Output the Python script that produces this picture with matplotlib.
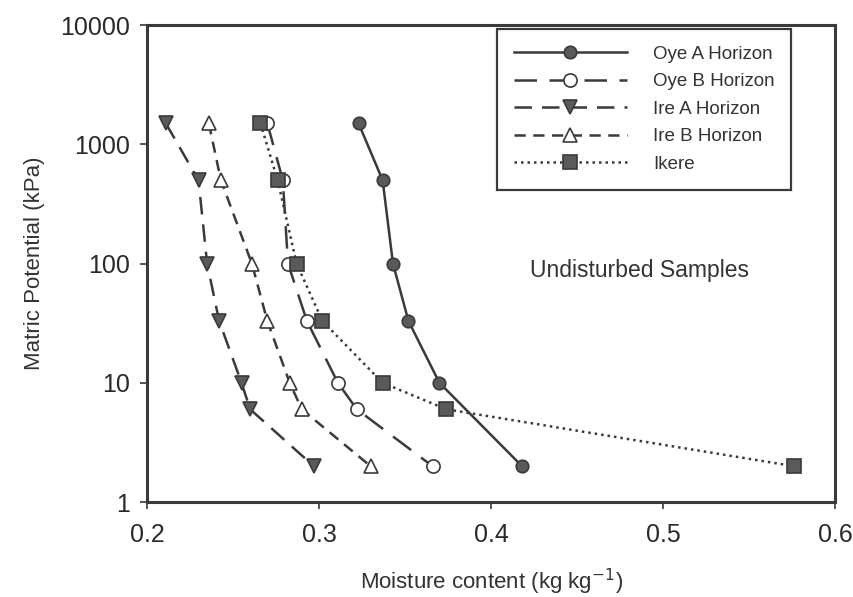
import matplotlib
matplotlib.use('Agg')
import matplotlib.pyplot as plt
from matplotlib.ticker import FixedLocator, NullLocator

plt.rcParams['font.family'] = ['Liberation Sans', 'DejaVu Sans']

# matric potential steps (kPa)
suction = [1500, 500, 100, 33, 10, 6, 2]

# moisture content per soil (kg/kg)
oye_a = [0.323, 0.337, 0.343, 0.352, 0.370, 0.418]
oye_a_kpa = [1500, 500, 100, 33, 10, 2]
oye_b = [0.270, 0.279, 0.282, 0.293, 0.311, 0.322, 0.366]
ire_a = [0.211, 0.230, 0.235, 0.242, 0.255, 0.260, 0.297]
ire_b = [0.236, 0.243, 0.261, 0.270, 0.283, 0.290, 0.330]
ikere = [0.266, 0.276, 0.287, 0.302, 0.337, 0.374, 0.576]

xticks = [0.2, 0.3, 0.4, 0.5, 0.6]
yticks = [1, 10, 100, 1000, 10000]

ink = '#3a3a3a'
fill = '#5a5a5a'

fig = plt.figure(figsize=(8.54, 5.97), dpi=100)
ax = fig.add_axes([0.172, 0.159, 0.806, 0.799])

ax.plot(oye_a, oye_a_kpa, '-', color=ink, lw=1.8, marker='o', ms=9,
        mfc=fill, mec=ink, mew=1.2, label='Oye A Horizon')
ax.plot(oye_b, suction, color=ink, lw=1.8, dashes=(9, 5), marker='o', ms=9.5,
        mfc='white', mec=ink, mew=1.2, label='Oye B Horizon')
ax.plot(ire_a, suction, color=ink, lw=1.8, dashes=(7, 4), marker='v', ms=10.5,
        mfc=fill, mec=ink, mew=1.2, label='Ire A Horizon')
ax.plot(ire_b, suction, color=ink, lw=1.8, dashes=(4.5, 3), marker='^', ms=10.5,
        mfc='white', mec=ink, mew=1.2, label='Ire B Horizon')
ax.plot(ikere, suction, color=ink, lw=1.8, dashes=(1, 1.6), marker='s', ms=9.5,
        mfc=fill, mec=ink, mew=1.2, label='Ikere')

ax.set_yscale('log')
ax.set_xlim(0.2, 0.6)
ax.set_ylim(1, 10000)
ax.xaxis.set_major_locator(FixedLocator(xticks))
ax.set_xticklabels([f'{v:.1f}' for v in xticks])
ax.yaxis.set_major_locator(FixedLocator(yticks))
ax.yaxis.set_minor_locator(NullLocator())
ax.set_yticklabels([str(v) for v in yticks])

for s in ax.spines.values():
    s.set_linewidth(2.2)
    s.set_color(ink)
ax.tick_params(direction='out', length=5, width=1.2, color=ink,
               labelsize=18, labelcolor='#2a2a2a', pad=7)
ax.tick_params(axis='x', pad=10)

ax.set_xlabel('Moisture content (kg kg$^{-1}$)', fontsize=16, color='#333333', labelpad=14)
ax.set_ylabel('Matric Potential (kPa)', fontsize=16, color='#333333', labelpad=11)

ax.text(0.486, 88, 'Undisturbed Samples', fontsize=16.5, color='#333333',
        ha='center', va='center')

leg = ax.legend(loc='upper left', bbox_to_anchor=(0.509, 0.992), borderaxespad=0,
                fontsize=13.5, handlelength=6.0, handletextpad=1.4, labelspacing=0.55,
                fancybox=False, framealpha=1, edgecolor=ink, borderpad=0.9)
leg.get_frame().set_linewidth(1.6)
for t in leg.get_texts():
    t.set_color('#333333')

fig.savefig('out.png', dpi=100)
